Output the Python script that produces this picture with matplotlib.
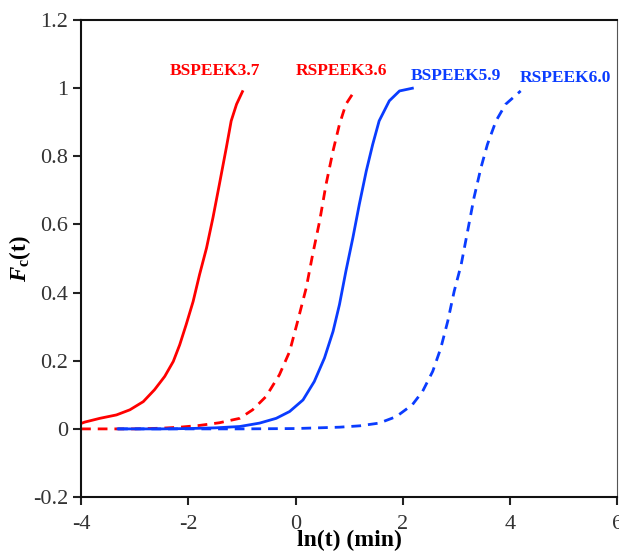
import matplotlib
matplotlib.use("Agg")
import matplotlib.pyplot as plt
from matplotlib.ticker import FormatStrFormatter

plt.rcParams['font.family'] = ['Liberation Serif', 'DejaVu Serif']
plt.rcParams['axes.unicode_minus'] = False
plt.rcParams['mathtext.fontset'] = 'custom'
plt.rcParams['mathtext.it'] = 'Liberation Serif:italic:bold'
plt.rcParams['mathtext.rm'] = 'Liberation Serif:bold'
plt.rcParams['mathtext.bf'] = 'Liberation Serif:bold'

# BSPEEK3.7 (red, solid)
bs37_x = [-4.0, -3.93, -3.65, -3.34, -3.09, -2.84, -2.63, -2.44, -2.28, -2.16, -2.04, -1.91,
          -1.79, -1.66, -1.54, -1.42, -1.29, -1.20, -1.10, -0.99]
bs37_y = [0.016, 0.020, 0.031, 0.041, 0.056, 0.080, 0.115, 0.154, 0.198, 0.247, 0.306, 0.374,
          0.453, 0.531, 0.620, 0.718, 0.826, 0.904, 0.953, 0.990]

# RSPEEK3.6 (red, dashed)
rs36_x = [-4.0, -3.0, -2.5, -2.16, -1.8, -1.42, -1.04, -0.80, -0.55, -0.30, -0.11, 0.04, 0.20,
          0.32, 0.45, 0.57, 0.70, 0.82, 0.94, 1.06]
rs36_y = [0.0, 0.0, 0.002, 0.005, 0.010, 0.018, 0.031, 0.056, 0.095, 0.159, 0.227, 0.316, 0.414,
          0.512, 0.610, 0.718, 0.816, 0.894, 0.953, 0.982]

# BSPEEK5.9 (blue, solid)
bs59_x = [-3.31, -2.5, -2.0, -1.5, -1.04, -0.67, -0.36, -0.11, 0.14, 0.35, 0.54, 0.70, 0.82, 0.94,
          1.07, 1.19, 1.32, 1.44, 1.56, 1.75, 1.94, 2.18]
bs59_y = [0.0, 0.0, 0.001, 0.003, 0.007, 0.017, 0.031, 0.051, 0.085, 0.139, 0.208, 0.286, 0.365,
          0.463, 0.561, 0.659, 0.757, 0.835, 0.904, 0.963, 0.992, 1.0]

# RSPEEK6.0 (blue, dashed)
rs60_x = [-3.31, -1.0, 0.0, 0.82, 1.2, 1.56, 1.88, 2.18, 2.37, 2.56, 2.71, 2.84, 2.96, 3.09, 3.21,
          3.33, 3.46, 3.58, 3.74, 3.92, 4.20]
rs60_y = [0.0, 0.0, 0.001, 0.005, 0.009, 0.017, 0.036, 0.071, 0.110, 0.169, 0.237, 0.316, 0.404,
          0.482, 0.580, 0.679, 0.767, 0.835, 0.904, 0.953, 0.992]

names = ['BSPEEK3.7', 'RSPEEK3.6', 'BSPEEK5.9', 'RSPEEK6.0']
label_x = [-1.5, 0.86, 3.0, 5.03]
label_y = [1.05, 1.05, 1.035, 1.03]

RED = '#ff0000'
BLUE = '#0a3cff'

fig = plt.figure(figsize=(6.19, 5.52), dpi=100)
ax = fig.add_axes([0.131, 0.0996, 0.866, 0.864])

dash = (3.5, 2.5)
ax.plot(rs36_x, rs36_y, color=RED, lw=2, dashes=dash)
ax.plot(rs60_x, rs60_y, color=BLUE, lw=2, dashes=dash)
ax.plot(bs37_x, bs37_y, color=RED, lw=2)
ax.plot(bs59_x, bs59_y, color=BLUE, lw=2)

colors = [RED, RED, BLUE, BLUE]
for n, lx, ly, c in zip(names, label_x, label_y, colors):
    ax.text(lx, ly, n, color=c, fontsize=12.5, fontweight='bold', ha='center', va='center')

ax.set_xlim(-4, 6)
ax.set_ylim(-0.2, 1.2)
ax.set_xticks([-4, -2, 0, 2, 4, 6])
ax.set_yticks([-0.2, 0, 0.2, 0.4, 0.6, 0.8, 1.0, 1.2])
ax.xaxis.set_major_formatter(FormatStrFormatter('%g'))
ax.yaxis.set_major_formatter(FormatStrFormatter('%g'))
ax.tick_params(direction='out', length=6, width=1.5, labelsize=16, top=False, right=False,
               color='#222222', labelcolor='#333333')
ax.tick_params(axis='x', pad=7)

for side in ['left', 'bottom', 'top']:
    ax.spines[side].set_linewidth(1.5)
    ax.spines[side].set_color('#111111')
ax.spines['right'].set_linewidth(0.8)
ax.spines['right'].set_color('#555555')

ax.set_xlabel('ln(t) (min)', fontsize=17, fontweight='bold', labelpad=-3)
ax.set_ylabel(r'$F_{\mathrm{c}}\mathrm{(t)}$', fontsize=16.5, labelpad=0)

fig.savefig('out.png', dpi=100)
